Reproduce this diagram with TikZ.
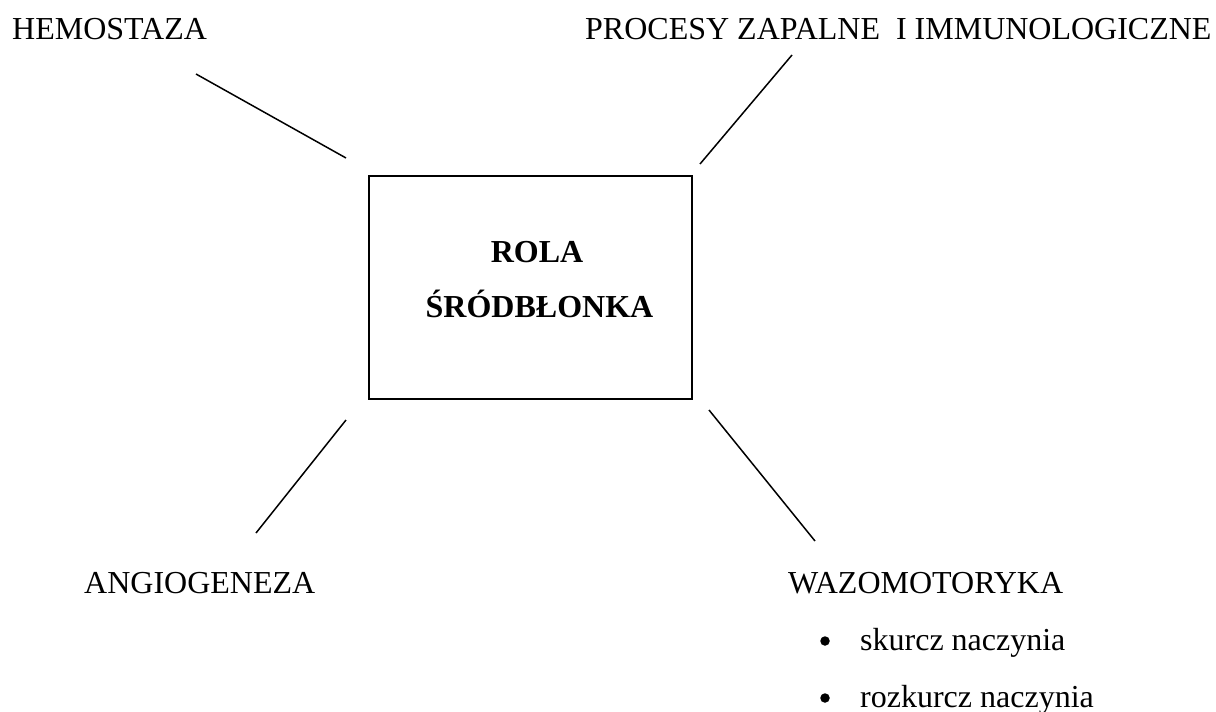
\documentclass[tikz,border=0pt]{standalone}
\usepackage{fontspec}
\setmainfont{Liberation Serif}
\begin{document}
\begin{tikzpicture}[x=1pt,y=-1pt,
  lbl/.style={anchor=base west,inner sep=0pt,font=\fontsize{32}{38}\selectfont},
  boldlbl/.style={anchor=base,inner sep=0pt,font=\fontsize{32}{38}\selectfont\bfseries},
  conn/.style={line width=1.5pt},
  bulletdot/.style={circle,fill=black,inner sep=0pt,minimum size=9.5pt}]
\useasboundingbox (0,0) rectangle (1216,712);
\node[draw,line width=1.7pt,minimum width=323pt,minimum height=223pt,inner sep=0pt] (box) at (530.5,287.5) {};
\node[boldlbl] (rola) at (537,262) {ROLA};
\node[boldlbl] (srod) at (539.5,317) {ŚRÓDBŁONKA};
\node[lbl] (hem) at (12,39) {HEMOSTAZA};
\node[lbl] (proc) at (585,39) {PROCESY ZAPALNE\ \ I IMMUNOLOGICZNE};
\node[lbl] (ang) at (84,593) {ANGIOGENEZA};
\node[lbl] (waz) at (788,593) {WAZOMOTORYKA};
\node[bulletdot] (b1) at (825,641) {};
\node[lbl] (sk) at (860,650) {skurcz naczynia};
\node[bulletdot] (b2) at (825,698) {};
\node[lbl] (rk) at (860,707) {rozkurcz naczynia};
\coordinate (h1) at (196,74); \coordinate (h2) at (346,158);
\coordinate (p1) at (792,55); \coordinate (p2) at (700,164);
\coordinate (a1) at (346,420); \coordinate (a2) at (256,533);
\coordinate (w1) at (709,410); \coordinate (w2) at (815,541);
\draw[conn] (h1) -- (h2);
\draw[conn] (p1) -- (p2);
\draw[conn] (a1) -- (a2);
\draw[conn] (w1) -- (w2);
\end{tikzpicture}
\end{document}
